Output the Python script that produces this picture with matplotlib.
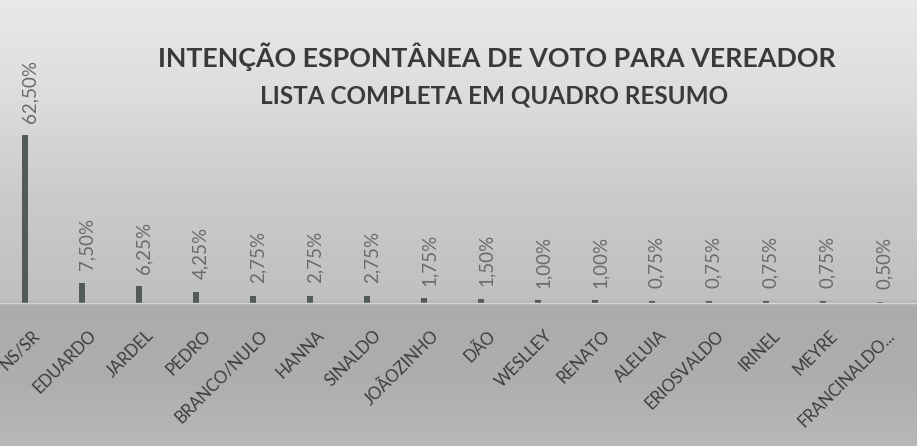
import numpy as np
import matplotlib.pyplot as plt
from matplotlib.transforms import ScaledTranslation

candidatos = ["NS/SR", "EDUARDO", "JARDEL", "PEDRO", "BRANCO/NULO", "HANNA", "SINALDO",
              "JOÃOZINHO", "DÃO", "WESLLEY", "RENATO", "ALELUIA", "ERIOSVALDO",
              "IRINEL", "MEYRE", "FRANCINALDO..."]
percentuais = [62.50, 7.50, 6.25, 4.25, 2.75, 2.75, 2.75, 1.75, 1.50, 1.00, 1.00,
               0.75, 0.75, 0.75, 0.75, 0.50]

plt.rcParams['font.family'] = ['Lato', 'DejaVu Sans']

fig = plt.figure(figsize=(9.17, 4.46), dpi=100)

# fundo cinza em degradê (imitando a digitalização)
bg = fig.add_axes([0, 0, 1, 1])
rows = np.arange(446)
gray = np.interp(rows, [0, 100, 200, 298, 306, 380, 446],
                 [0.91, 0.86, 0.79, 0.75, 0.67, 0.68, 0.72])
bg.imshow(np.repeat(gray[:, None], 2, axis=1), cmap='gray', vmin=0, vmax=1,
          aspect='auto', extent=[0, 1, 0, 1], origin='upper')
bg.axis('off')

ax = fig.add_axes([0, 1 - 303 / 446, 1, 303 / 446])
ax.set_facecolor('none')
x = np.arange(len(candidatos))
ax.bar(x, percentuais, width=0.1, color='#535a5a')
ax.set_xlim(-0.44, 15.65)
ax.set_ylim(0, 113)

for xi, v in zip(x, percentuais):
    ax.annotate(f"{v:.2f}%".replace('.', ','), (xi, v), xytext=(3.5, 9),
                textcoords='offset points', rotation=90, ha='center', va='bottom',
                fontsize=13.5, color='#6a6a6a')

# rótulos das categorias a 45 graus
lab_tr = ax.get_xaxis_transform() + ScaledTranslation(12 / 100, -30 / 100, fig.dpi_scale_trans)
for xi, nome in zip(x, candidatos):
    ax.text(xi, 0, nome, transform=lab_tr, rotation=45, ha='right', va='center',
            rotation_mode='anchor', fontsize=12, color='#3c3c3c', clip_on=False)

ax.set_xticks([])
ax.set_yticks([])
for s in ['top', 'left', 'right']:
    ax.spines[s].set_visible(False)
ax.spines['bottom'].set_color('#d6d6d6')
ax.spines['bottom'].set_linewidth(1)

fig.text(497 / 917, 1 - 57 / 446, "INTENÇÃO ESPONTÂNEA DE VOTO PARA VEREADOR",
         ha='center', va='center', fontsize=19.3, fontweight='bold', color='#383a3c')
fig.text(494 / 917, 1 - 96 / 446, "LISTA COMPLETA EM QUADRO RESUMO",
         ha='center', va='center', fontsize=17.5, fontweight='bold', color='#383a3c')

fig.savefig('out.png', dpi=100)
